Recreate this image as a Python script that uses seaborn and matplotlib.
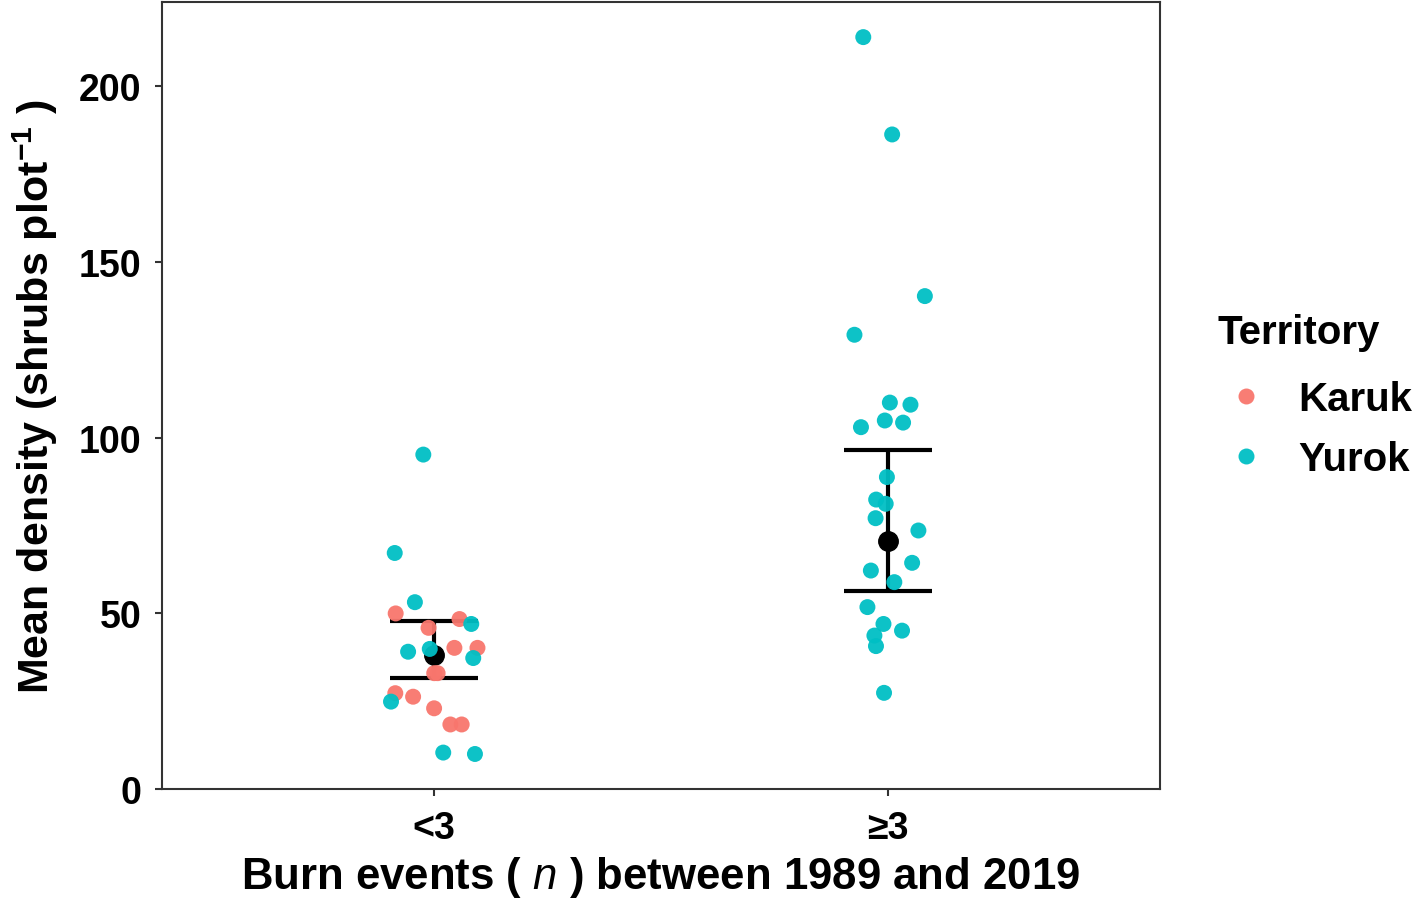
"""
Shrub density by burn frequency, Karuk and Yurok territories.
"""

import numpy as np
import pandas as pd
import matplotlib
matplotlib.use("Agg")
import matplotlib.pyplot as plt
import seaborn as sns

# Plot values (shrubs per plot)
lt3_karuk = [50.0, 48.4, 45.9, 40.2, 40.2, 33.0, 33.0, 27.3, 26.3, 23.0, 18.4, 18.4]
lt3_yurok = [95.2, 67.2, 53.2, 47.0, 39.1, 39.9, 37.3, 24.9, 10.4, 10.0]
ge3_yurok = [214.0, 186.3, 140.3, 129.3, 110.0, 109.4, 104.3, 104.9, 103.0,
             88.8, 82.4, 81.2, 77.1, 73.6, 64.4, 62.2, 58.9, 51.8, 47.0,
             43.7, 45.1, 40.7, 27.4]

burn_levels = ["<3", "\u22653"]
territories = ["Karuk", "Yurok"]

# Model estimates with confidence limits
est_mean = [38.2, 70.7]
ci_low = [31.6, 56.3]
ci_high = [47.9, 96.4]

y_ticks = [0, 50, 100, 150, 200]

palette = {"Karuk": "#F8766D", "Yurok": "#00BFC4"}

df = pd.DataFrame({
    "burn": [burn_levels[0]] * (len(lt3_karuk) + len(lt3_yurok)) + [burn_levels[1]] * len(ge3_yurok),
    "territory": ["Karuk"] * len(lt3_karuk) + ["Yurok"] * len(lt3_yurok) + ["Yurok"] * len(ge3_yurok),
    "density": lt3_karuk + lt3_yurok + ge3_yurok,
})

sns.set_theme(style="ticks")
plt.rcParams["font.family"] = ["Liberation Sans", "DejaVu Sans"]
plt.rcParams["font.weight"] = "bold"
plt.rcParams["text.color"] = "black"
plt.rcParams["axes.labelcolor"] = "black"
plt.rcParams["mathtext.fontset"] = "custom"
plt.rcParams["mathtext.rm"] = "Liberation Sans:weight=bold"
plt.rcParams["mathtext.bf"] = "Liberation Sans:weight=bold"
plt.rcParams["mathtext.it"] = "Liberation Sans:style=italic:weight=normal"

fig = plt.figure(figsize=(14.18, 9.03), dpi=100)
ax = fig.add_axes([0.1142, 0.125, 0.7038, 0.8717])

np.random.seed(7)
sns.stripplot(data=df, x="burn", y="density", hue="territory",
              order=burn_levels, hue_order=territories, palette=palette,
              jitter=0.1, size=11.5, linewidth=0, alpha=0.95, ax=ax, zorder=3)

# mean and confidence interval
xpos = np.arange(len(burn_levels))
yerr = [np.array(est_mean) - np.array(ci_low), np.array(ci_high) - np.array(est_mean)]
ax.errorbar(xpos, est_mean, yerr=yerr, fmt="o", color="black", ms=14,
            elinewidth=3, capsize=32, capthick=3, zorder=2)

ax.set_xlim(-0.6, 1.6)
ax.set_ylim(0, 224)
ax.set_yticks(y_ticks)
ax.set_xlabel("Burn events ( $\\it{n}$ ) between 1989 and 2019", fontsize=31.5,
              fontweight="bold", labelpad=6, color="black")
ax.set_ylabel("Mean density (shrubs plot$^{-1}$ )", fontsize=31,
              fontweight="bold", labelpad=13, color="black")
ax.tick_params(axis="both", labelsize=27, length=5, width=1.5, color="#333333",
               labelcolor="black", pad=10)
for lab in ax.get_xticklabels() + ax.get_yticklabels():
    lab.set_fontweight("bold")
for side in ["top", "right", "bottom", "left"]:
    ax.spines[side].set_visible(True)
    ax.spines[side].set_linewidth(1.5)
    ax.spines[side].set_color("#333333")

handles, labels = ax.get_legend_handles_labels()
ax.legend_.remove()
leg = ax.legend(handles[:2], labels[:2], title="Territory", loc="center left",
                bbox_to_anchor=(1.058, 0.5), frameon=False, fontsize=29,
                title_fontsize=29, handlelength=1.4, handletextpad=0.6,
                labelspacing=0.55, borderpad=0, borderaxespad=0, markerscale=1.0)
leg.get_title().set_fontweight("bold")
leg._legend_box.align = "left"
leg._legend_box.sep = 21

plt.savefig("out.png", dpi=100)
